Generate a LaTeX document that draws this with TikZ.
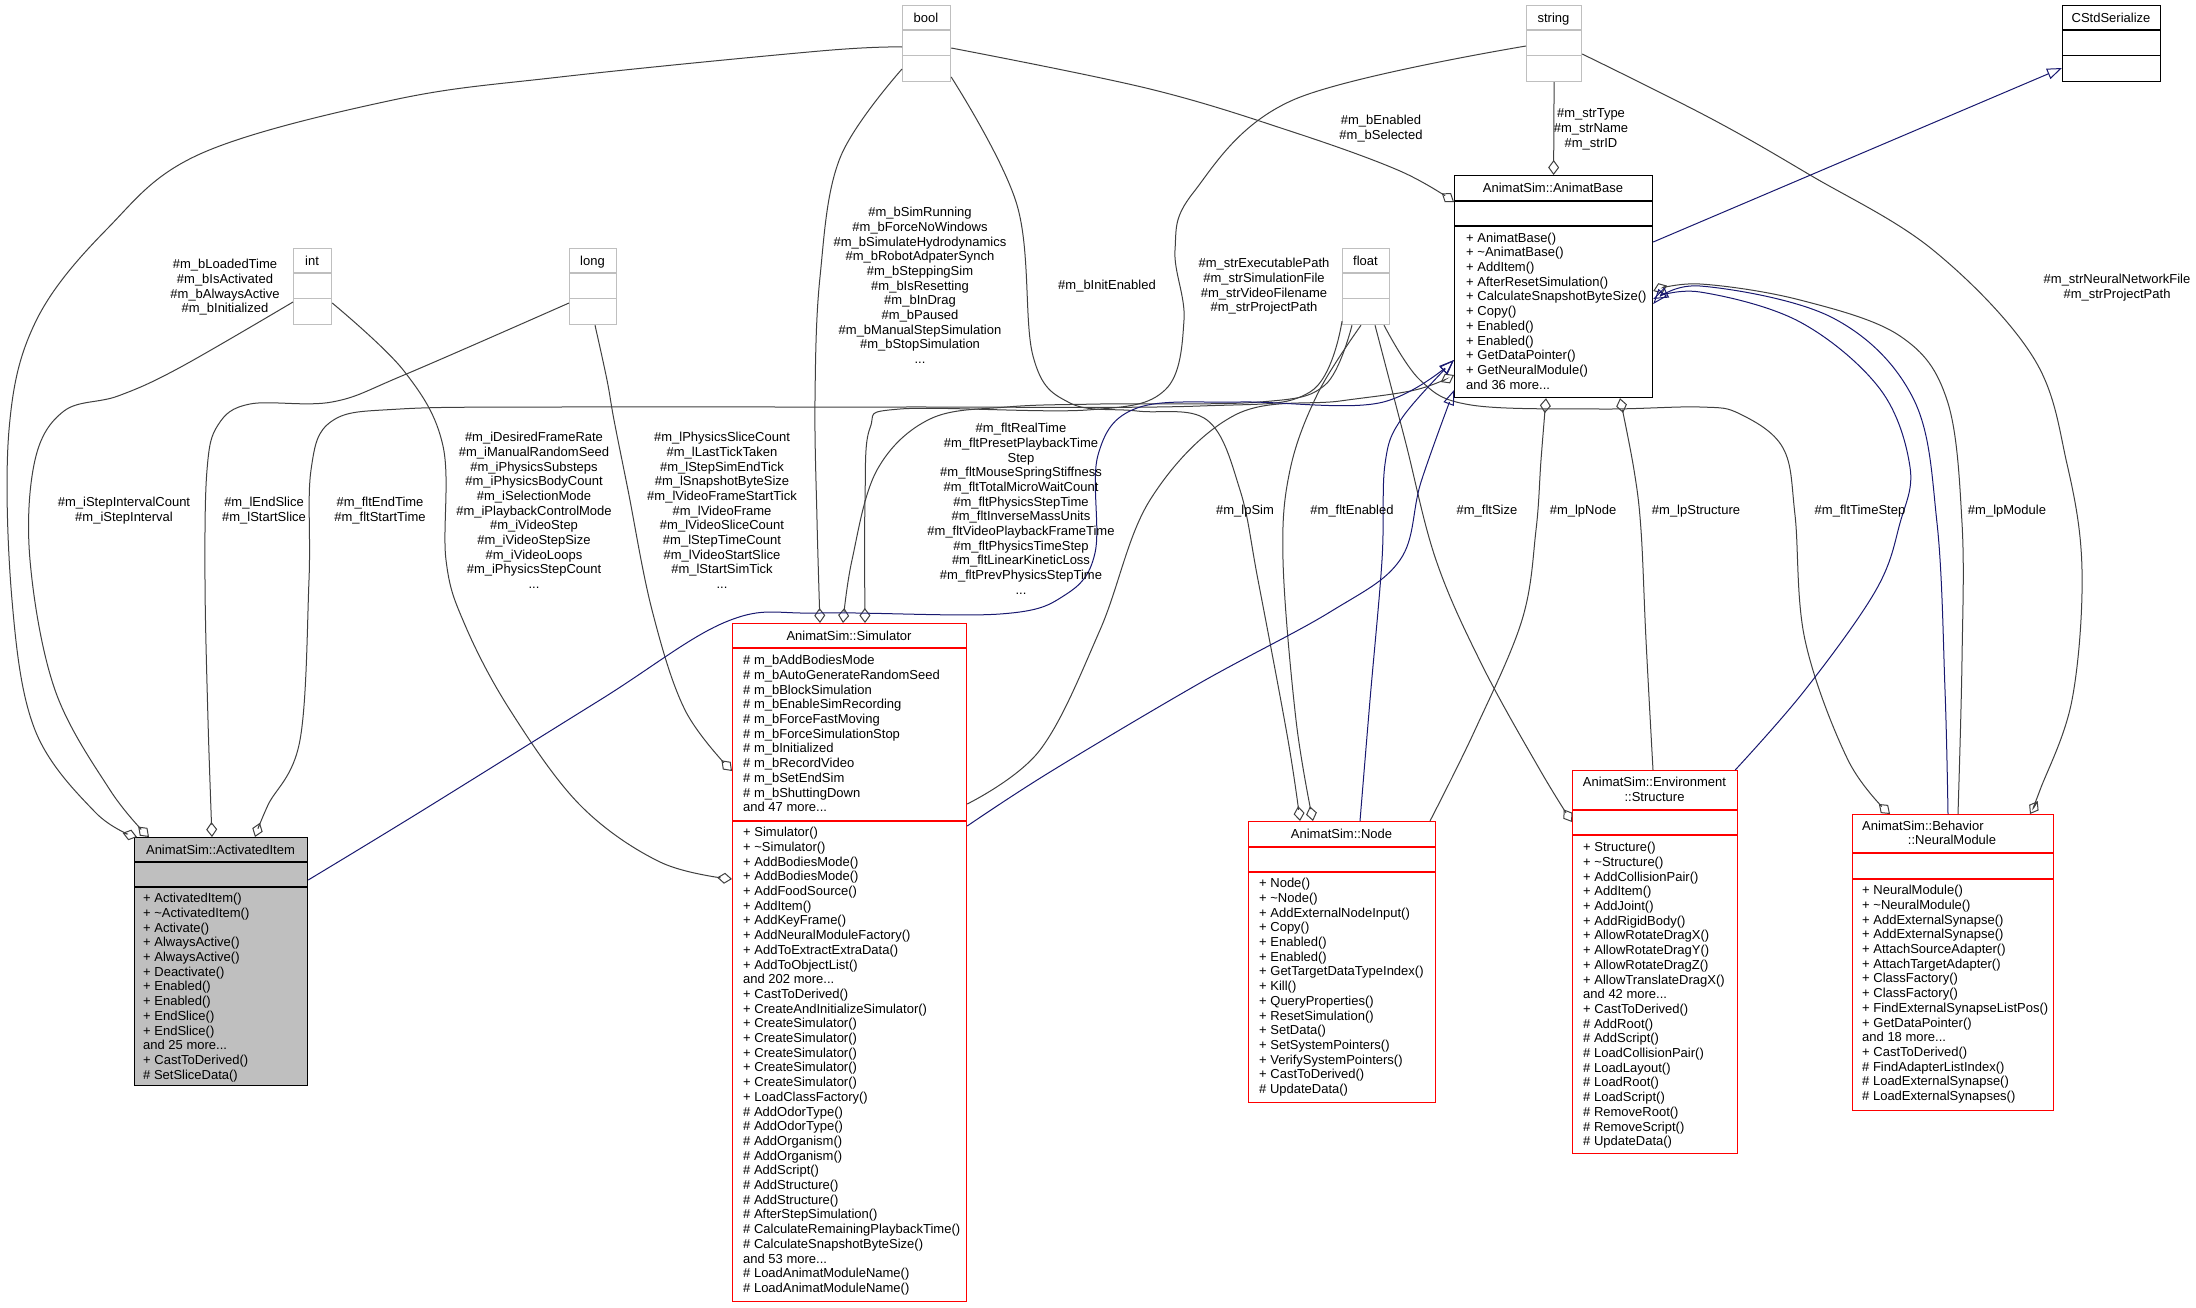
\documentclass[tikz,border=0pt]{standalone}
\usepackage{fontspec}
\setmainfont{Liberation Sans}
\usetikzlibrary{arrows.meta,calc}
\definecolor{edgegray}{HTML}{404040}
\definecolor{navyline}{HTML}{191970}
\definecolor{typegray}{HTML}{BFBFBF}
\definecolor{focusgray}{HTML}{BFBFBF}
\definecolor{redline}{HTML}{FF0000}
\newcommand\dxf{\fontsize{13}{14.7}\selectfont}
\newcommand\cmpline[3]{\draw[#3,line width=1.2pt] ($(#1.north west)+(0,#2)$) -- ($(#1.north east)+(0,#2)$);}
\newcommand\tld{\textasciitilde}
\tikzset{
  box/.style={draw, line width=1.2pt, inner sep=0pt, anchor=north west, fill=white},
  typebox/.style={box, draw=typegray, minimum height=76pt},
  clsbox/.style={box, draw=black},
  redbox/.style={box, draw=redline},
  txt/.style={font=\dxf, inner sep=0pt},
  mlist/.style={txt, align=left, anchor=north west},
  elabel/.style={txt, align=center, anchor=north},
  hdr/.style={txt, anchor=base},
  usage/.style={draw=edgegray, line width=1pt, -{Diamond[open,length=15pt,width=11pt]}},
  inherit/.style={draw=navyline, line width=1pt, -{Triangle[open,length=15pt,width=11pt]}},
}
\begin{document}
\begin{tikzpicture}[x=1pt,y=-1pt]
\useasboundingbox (0,0) rectangle (2196,1307);
\fill[white] (0,0) rectangle (2196,1307);

% ---------- type boxes ----------
\node[typebox, minimum width=48pt] (tbool) at (902,5) {};
\cmpline{tbool}{25}{typegray}\cmpline{tbool}{50.5}{typegray}
\node[hdr] (tboolh) at (926,22) {bool};

\node[typebox, minimum width=55pt] (tstring) at (1526,5) {};
\cmpline{tstring}{25}{typegray}\cmpline{tstring}{50.5}{typegray}
\node[hdr] (tstringh) at (1553.5,22) {string};

\node[box, minimum width=98pt, minimum height=76pt] (cstd) at (2062,5) {};
\cmpline{cstd}{25}{black}\cmpline{cstd}{50.5}{black}
\node[hdr] (cstdh) at (2111,22) {CStdSerialize};

\node[typebox, minimum width=38pt] (tint) at (293,248) {};
\cmpline{tint}{25}{typegray}\cmpline{tint}{50.5}{typegray}
\node[hdr] (tinth) at (312,265) {int};

\node[typebox, minimum width=47pt] (tlong) at (569,248) {};
\cmpline{tlong}{25}{typegray}\cmpline{tlong}{50.5}{typegray}
\node[hdr] (tlongh) at (592.5,265) {long};

\node[typebox, minimum width=47pt] (tfloat) at (1342,248) {};
\cmpline{tfloat}{25}{typegray}\cmpline{tfloat}{50.5}{typegray}
\node[hdr] (tfloath) at (1365.5,265) {float};

% ---------- AnimatBase ----------
\node[clsbox, minimum width=198pt, minimum height=222pt] (ab) at (1454,175) {};
\cmpline{ab}{26}{black}\cmpline{ab}{51}{black}
\node[hdr] (abh) at (1553,192.5) {AnimatSim::AnimatBase};
\node[mlist] (abm) at (1466,231.7) {\strut+ AnimatBase()\\+ \tld AnimatBase()\\+ AddItem()\\+ AfterResetSimulation()\\+ CalculateSnapshotByteSize()\\+ Copy()\\+ Enabled()\\+ Enabled()\\+ GetDataPointer()\\+ GetNeuralModule()\\and 36 more...};

% ---------- ActivatedItem ----------
\node[clsbox, fill=focusgray, minimum width=173pt, minimum height=248pt] (act) at (134,837) {};
\cmpline{act}{25}{black}\cmpline{act}{50}{black}
\node[hdr] (acth) at (220.5,854) {AnimatSim::ActivatedItem};
\node[mlist] (actm) at (143,892.2) {\strut+ ActivatedItem()\\+ \tld ActivatedItem()\\+ Activate()\\+ AlwaysActive()\\+ AlwaysActive()\\+ Deactivate()\\+ Enabled()\\+ Enabled()\\+ EndSlice()\\+ EndSlice()\\and 25 more...\\+ CastToDerived()\\\# SetSliceData()};

% ---------- Simulator ----------
\node[redbox, minimum width=234pt, minimum height=678pt] (sim) at (732,623) {};
\cmpline{sim}{25}{redline}\cmpline{sim}{198}{redline}
\node[hdr] (simh) at (849,640) {AnimatSim::Simulator};
\node[mlist] (sima) at (743,654.2) {\strut\# m\_bAddBodiesMode\\\# m\_bAutoGenerateRandomSeed\\\# m\_bBlockSimulation\\\# m\_bEnableSimRecording\\\# m\_bForceFastMoving\\\# m\_bForceSimulationStop\\\# m\_bInitialized\\\# m\_bRecordVideo\\\# m\_bSetEndSim\\\# m\_bShuttingDown\\and 47 more...};
\node[mlist] (simm) at (743,826.2) {\strut+ Simulator()\\+ \tld Simulator()\\+ AddBodiesMode()\\+ AddBodiesMode()\\+ AddFoodSource()\\+ AddItem()\\+ AddKeyFrame()\\+ AddNeuralModuleFactory()\\+ AddToExtractExtraData()\\+ AddToObjectList()\\and 202 more...\\+ CastToDerived()\\+ CreateAndInitializeSimulator()\\+ CreateSimulator()\\+ CreateSimulator()\\+ CreateSimulator()\\+ CreateSimulator()\\+ CreateSimulator()\\+ LoadClassFactory()\\\# AddOdorType()\\\# AddOdorType()\\\# AddOrganism()\\\# AddOrganism()\\\# AddScript()\\\# AddStructure()\\\# AddStructure()\\\# AfterStepSimulation()\\\# CalculateRemainingPlaybackTime()\\\# CalculateSnapshotByteSize()\\and 53 more...\\\# LoadAnimatModuleName()\\\# LoadAnimatModuleName()};

% ---------- Node ----------
\node[redbox, minimum width=187pt, minimum height=281pt] (nd) at (1248,821) {};
\cmpline{nd}{26}{redline}\cmpline{nd}{51}{redline}
\node[hdr] (ndh) at (1341.5,838.5) {AnimatSim::Node};
\node[mlist] (ndm) at (1259,877.2) {\strut+ Node()\\+ \tld Node()\\+ AddExternalNodeInput()\\+ Copy()\\+ Enabled()\\+ Enabled()\\+ GetTargetDataTypeIndex()\\+ Kill()\\+ QueryProperties()\\+ ResetSimulation()\\+ SetData()\\+ SetSystemPointers()\\+ VerifySystemPointers()\\+ CastToDerived()\\\# UpdateData()};

% ---------- Structure ----------
\node[redbox, minimum width=165pt, minimum height=383pt] (struc) at (1572,770) {};
\cmpline{struc}{40}{redline}\cmpline{struc}{65}{redline}
\node[elabel] (struch) at (1654.5,776.2) {\strut AnimatSim::Environment\\::Structure};
\node[mlist] (strucm) at (1583,841.2) {\strut+ Structure()\\+ \tld Structure()\\+ AddCollisionPair()\\+ AddItem()\\+ AddJoint()\\+ AddRigidBody()\\+ AllowRotateDragX()\\+ AllowRotateDragY()\\+ AllowRotateDragZ()\\+ AllowTranslateDragX()\\and 42 more...\\+ CastToDerived()\\\# AddRoot()\\\# AddScript()\\\# LoadCollisionPair()\\\# LoadLayout()\\\# LoadRoot()\\\# LoadScript()\\\# RemoveRoot()\\\# RemoveScript()\\\# UpdateData()};

% ---------- NeuralModule ----------
\node[redbox, minimum width=201pt, minimum height=296pt] (nm) at (1852,814) {};
\cmpline{nm}{39}{redline}\cmpline{nm}{65}{redline}
\node[txt, anchor=base west] (nmh1) at (1862,830.5) {AnimatSim::Behavior};
\node[hdr] (nmh2) at (1952,844.5) {::NeuralModule};
\node[mlist] (nmm) at (1862,884.2) {\strut+ NeuralModule()\\+ \tld NeuralModule()\\+ AddExternalSynapse()\\+ AddExternalSynapse()\\+ AttachSourceAdapter()\\+ AttachTargetAdapter()\\+ ClassFactory()\\+ ClassFactory()\\+ FindExternalSynapseListPos()\\+ GetDataPointer()\\and 18 more...\\+ CastToDerived()\\\# FindAdapterListIndex()\\\# LoadExternalSynapse()\\\# LoadExternalSynapses()};

% ---------- connector end points ----------
\coordinate (boolL1) at ($(tbool.north west)+(0,42)$);
\coordinate (boolL2) at ($(tbool.north west)+(0,64)$);
\coordinate (boolR1) at ($(tbool.north east)+(0,43)$);
\coordinate (boolR2) at ($(tbool.north east)+(0,72)$);
\coordinate (strL) at ($(tstring.north west)+(0,41)$);
\coordinate (strB) at (tstring.south);
\coordinate (strR) at ($(tstring.north east)+(0,49)$);
\coordinate (intL) at ($(tint.north west)+(0,54)$);
\coordinate (intR) at ($(tint.north east)+(0,55)$);
\coordinate (longL) at ($(tlong.north west)+(0,55)$);
\coordinate (longB) at ($(tlong.south west)+(26,0)$);
\coordinate (fltA) at ($(tfloat.south west)+(0,-4)$);
\coordinate (fltS) at ($(tfloat.south west)+(10,0)$);
\coordinate (fltN) at ($(tfloat.south west)+(19,0)$);
\coordinate (fltT) at ($(tfloat.south west)+(33,0)$);
\coordinate (fltM) at ($(tfloat.south west)+(42,0)$);
\coordinate (abT) at (ab.north);
\coordinate (abL1) at ($(ab.north west)+(0,27)$);
\coordinate (abL2) at ($(ab.north west)+(0,185)$);
\coordinate (abL3) at ($(ab.north west)+(0,200)$);
\coordinate (abL4) at ($(ab.north west)+(0,215)$);
\coordinate (abB1) at ($(ab.south west)+(92,0)$);
\coordinate (abB2) at ($(ab.south west)+(166,0)$);
\coordinate (abR0) at ($(ab.north east)+(0,67)$);
\coordinate (abR1) at ($(ab.north east)+(0,116)$);
\coordinate (abR2) at ($(ab.north east)+(0,124)$);
\coordinate (abR3) at ($(ab.north east)+(0,129)$);
\coordinate (csL) at ($(cstd.north west)+(0,63)$);
\coordinate (actT1) at ($(act.north west)+(3,0)$);
\coordinate (actT2) at ($(act.north west)+(15,0)$);
\coordinate (actT3) at ($(act.north west)+(78,0)$);
\coordinate (actT4) at ($(act.north west)+(121,0)$);
\coordinate (actR) at ($(act.north east)+(0,43)$);
\coordinate (simT1) at ($(sim.north west)+(88,0)$);
\coordinate (simT2) at ($(sim.north west)+(111,0)$);
\coordinate (simT3) at ($(sim.north west)+(133,0)$);
\coordinate (simL1) at ($(sim.north west)+(0,148)$);
\coordinate (simL2) at ($(sim.north west)+(0,256)$);
\coordinate (simR1) at ($(sim.north east)+(0,181)$);
\coordinate (simR2) at ($(sim.north east)+(0,203)$);
\coordinate (ndT1) at ($(nd.north west)+(52,0)$);
\coordinate (ndT2) at ($(nd.north west)+(65,0)$);
\coordinate (ndT3) at ($(nd.north west)+(112,0)$);
\coordinate (ndT4) at ($(nd.north west)+(182,0)$);
\coordinate (stL) at ($(struc.north west)+(0,52)$);
\coordinate (stT) at ($(struc.north west)+(81,0)$);
\coordinate (stTR) at ($(struc.north east)+(-3,0)$);
\coordinate (nmT1) at ($(nm.north west)+(38,0)$);
\coordinate (nmT2) at ($(nm.north west)+(96,0)$);
\coordinate (nmT3) at ($(nm.north west)+(106,0)$);
\coordinate (nmT4) at ($(nm.north west)+(178,0)$);

% ---------- usage connectors ----------
\draw[usage] plot[smooth, tension=0.6] coordinates {(boolL1) (820,51) (560,77) (393,100) (200,154) (107,229) (36,321) (9,430) (12,600) (35,730) (95,812) (actT1)};
\draw[usage] plot[smooth, tension=0.6] coordinates {(intL) (179,368) (118,396) (64,411) (35,460) (30,560) (55,690) (110,790) (actT2)};
\draw[usage] plot[smooth, tension=0.6] coordinates {(longL) (404,375) (332,402) (250,404) (218,425) (207,470) (205,580) (208,720) (actT3)};
\draw[usage] plot[smooth, tension=0.6] coordinates {(fltA) (1310,392) (1200,406) (900,407) (560,407) (400,409) (332,421) (311,470) (309,580) (300,740) (268,805) (actT4)};
\draw[usage] plot[smooth, tension=0.6] coordinates {(boolL2) (840,158) (820,277) (815,400) (817,520) (simT1)};
\draw[usage] plot[smooth, tension=0.6] coordinates {(strL) (1293,100) (1193,193) (1175,250) (1184,320) (1165,390) (1087,410) (900,409) (870,428) (865,500) (simT3)};
\draw[usage] plot[smooth, tension=0.6] coordinates {(fltS) (1325,385) (1260,402) (1100,404) (1007,407) (930,419) (877,470) (852,560) (simT2)};
\draw[usage] plot[smooth, tension=0.6] coordinates {(intR) (404,371) (443,446) (446,560) (465,625) (510,710) (580,805) (660,862) (simL2)};
\draw[usage] plot[smooth, tension=0.6] coordinates {(longB) (607,380) (614,420) (628,490) (652,610) (685,710) (simL1)};
\draw[usage] plot[smooth, tension=0.6] coordinates {(boolR1) (1150,89) (1293,132) (1400,171) (abL1)};
\draw[usage] (strB) -- (abT);
\draw[usage] plot[smooth, tension=0.6] coordinates {(simR1) (1040,750) (1100,630) (1150,500) (1235,415) (1340,401) (1415,390) (abL3)};
\draw[usage] plot[smooth, tension=0.6] coordinates {(ndT4) (1475,730) (1522,620) (1536,530) (1541,460) (abB1)};
\draw[usage] plot[smooth, tension=0.6] coordinates {(stT) (1646,640) (1641,530) (1634,470) (abB2)};
\draw[usage] plot[smooth, tension=0.6] coordinates {(nmT3) (1962,660) (1962,523) (1947,400) (1900,336) (1800,300) (1700,284) (abR1)};
\draw[usage] plot[smooth, tension=0.6] coordinates {(boolR2) (1017,205) (1033,356) (1070,403) (1137,411) (1207,420) (1240,490) (1258,580) (1288,740) (ndT1)};
\draw[usage] plot[smooth, tension=0.6] coordinates {(fltN) (1318,393) (1290,470) (1283,560) (1296,720) (ndT2)};
\draw[usage] plot[smooth, tension=0.6] coordinates {(fltT) (1405,440) (1436,560) (1482,665) (1540,770) (stL)};
\draw[usage] plot[smooth, tension=0.6] coordinates {(fltM) (1420,380) (1471,405) (1600,409) (1700,407) (1740,414) (1783,448) (1795,515) (1805,640) (1848,760) (nmT1)};
\draw[usage] plot[smooth, tension=0.6] coordinates {(strR) (1710,118) (1810,175) (1933,250) (2033,357) (2067,464) (2082,570) (2072,700) (2040,790) (nmT4)};

% ---------- inheritance connectors ----------
\draw[inherit] (abR0) -- (csL);
\draw[inherit] plot[smooth, tension=0.6] coordinates {(actR) (420,812) (600,700) (728,621) (820,613) (1000,614) (1065,595) (1095,553) (1098,455) (1137,408) (1240,402) (1379,403) (abL2)};
\draw[inherit] plot[smooth, tension=0.6] coordinates {(simR2) (1050,772) (1200,683) (1330,612) (1400,560) (1421,482) (abL4)};
\draw[inherit] plot[smooth, tension=0.6] coordinates {(ndT3) (1370,700) (1382,560) (1385,464) (1402,418) (abL2)};
\draw[inherit] plot[smooth, tension=0.6] coordinates {(stTR) (1805,690) (1876,590) (1900,523) (1910,467) (1880,389) (1800,322) (1700,292) (abR2)};
\draw[inherit] plot[smooth, tension=0.6] coordinates {(nmT2) (1945,690) (1937,523) (1913,398) (1833,318) (1700,286) (abR3)};

% ---------- connector labels ----------
\node[elabel] (lba) at (225,258.2) {\strut\#m\_bLoadedTime\\\#m\_bIsActivated\\\#m\_bAlwaysActive\\\#m\_bInitialized};
\node[elabel] (lia) at (124,496.2) {\strut\#m\_iStepIntervalCount\\\#m\_iStepInterval};
\node[elabel] (lla) at (264,496.2) {\strut\#m\_lEndSlice\\\#m\_lStartSlice};
\node[elabel] (lfa) at (380,496.2) {\strut\#m\_fltEndTime\\\#m\_fltStartTime};
\node[elabel] (lis) at (534,431.2) {\strut\#m\_iDesiredFrameRate\\\#m\_iManualRandomSeed\\\#m\_iPhysicsSubsteps\\\#m\_iPhysicsBodyCount\\\#m\_iSelectionMode\\\#m\_iPlaybackControlMode\\\#m\_iVideoStep\\\#m\_iVideoStepSize\\\#m\_iVideoLoops\\\#m\_iPhysicsStepCount\\...};
\node[elabel] (lls) at (722,431.2) {\strut\#m\_lPhysicsSliceCount\\\#m\_lLastTickTaken\\\#m\_lStepSimEndTick\\\#m\_lSnapshotByteSize\\\#m\_lVideoFrameStartTick\\\#m\_lVideoFrame\\\#m\_lVideoSliceCount\\\#m\_lStepTimeCount\\\#m\_lVideoStartSlice\\\#m\_lStartSimTick\\...};
\node[elabel] (lbs) at (920,206.2) {\strut\#m\_bSimRunning\\\#m\_bForceNoWindows\\\#m\_bSimulateHydrodynamics\\\#m\_bRobotAdpaterSynch\\\#m\_bSteppingSim\\\#m\_bIsResetting\\\#m\_bInDrag\\\#m\_bPaused\\\#m\_bManualStepSimulation\\\#m\_bStopSimulation\\...};
\node[elabel] (lbn) at (1107,279.2) {\strut\#m\_bInitEnabled};
\node[elabel] (lss) at (1264,257.2) {\strut\#m\_strExecutablePath\\\#m\_strSimulationFile\\\#m\_strVideoFilename\\\#m\_strProjectPath};
\node[elabel] (lbab) at (1381,114.2) {\strut\#m\_bEnabled\\\#m\_bSelected};
\node[elabel] (lsab) at (1591,107.2) {\strut\#m\_strType\\\#m\_strName\\\#m\_strID};
\node[elabel] (lfs) at (1021,422.2) {\strut\#m\_fltRealTime\\\#m\_fltPresetPlaybackTime\\Step\\\#m\_fltMouseSpringStiffness\\\#m\_fltTotalMicroWaitCount\\\#m\_fltPhysicsStepTime\\\#m\_fltInverseMassUnits\\\#m\_fltVideoPlaybackFrameTime\\\#m\_fltPhysicsTimeStep\\\#m\_fltLinearKineticLoss\\\#m\_fltPrevPhysicsStepTime\\...};
\node[elabel] (llpsim) at (1245,504.2) {\strut\#m\_lpSim};
\node[elabel] (lfen) at (1352,504.2) {\strut\#m\_fltEnabled};
\node[elabel] (lfsz) at (1487,504.2) {\strut\#m\_fltSize};
\node[elabel] (llpn) at (1583,504.2) {\strut\#m\_lpNode};
\node[elabel] (llps) at (1696,504.2) {\strut\#m\_lpStructure};
\node[elabel] (lfts) at (1860,504.2) {\strut\#m\_fltTimeStep};
\node[elabel] (llpm) at (2007,504.2) {\strut\#m\_lpModule};
\node[elabel] (lsnm) at (2117,273.2) {\strut\#m\_strNeuralNetworkFile\\\#m\_strProjectPath};
\end{tikzpicture}
\end{document}
